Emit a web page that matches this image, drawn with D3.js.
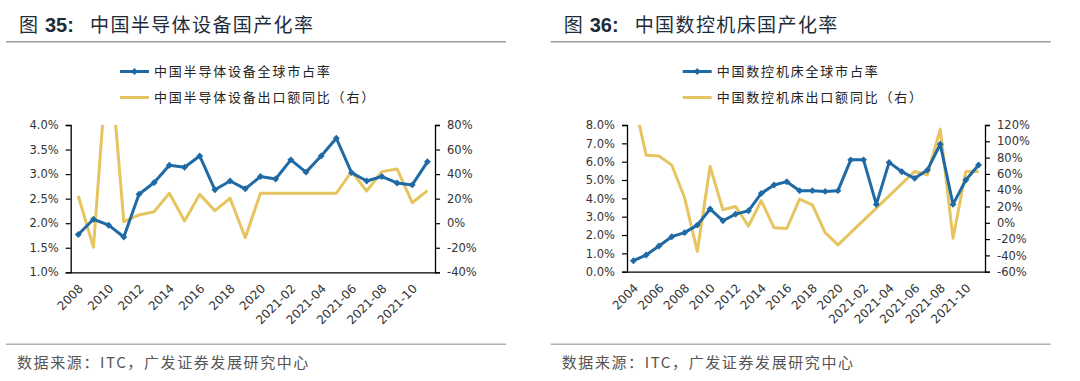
<!DOCTYPE html>
<html>
<head>
<meta charset="utf-8">
<script src="https://cdn.jsdelivr.net/npm/d3@7"></script>
<style>
body { margin: 0; background: #fff; }
</style>
</head>
<body>
<div id="chart"></div>
<script>
'use strict';

// 图35 中国半导体设备
var cats1 = ['2008', '2009', '2010', '2011', '2012', '2013', '2014', '2015', '2016', '2017', '2018', '2019', '2020',
    '2021-01', '2021-02', '2021-03', '2021-04', '2021-05', '2021-06', '2021-07', '2021-08', '2021-09', '2021-10', '2021-11']
var share1 = [1.77, 2.08, 1.96, 1.72, 2.59, 2.83, 3.18, 3.14, 3.37, 2.68, 2.86, 2.70, 2.95,
    2.90, 3.29, 3.04, 3.37, 3.73, 3.03, 2.86, 2.95, 2.82, 2.78, 3.25]
var export1 = [22.2, -19.6, 148, 1.2, 6.7, 9.4, 24.4, 1.8, 23.5, 10.2, 20.3, -11.8, 24.4,
    null, null, null, null, 24.4, 42, 26.2, 42, 44.2, 16.7, 26.5]
var leftTicks1 = [1.0, 1.5, 2.0, 2.5, 3.0, 3.5, 4.0]
var rightTicks1 = [-40, -20, 0, 20, 40, 60, 80]

// 图36 中国数控机床
var cats2 = ['2004', '2005', '2006', '2007', '2008', '2009', '2010', '2011', '2012', '2013', '2014', '2015', '2016',
    '2017', '2018', '2019', '2020',
    '2021-01', '2021-02', '2021-03', '2021-04', '2021-05', '2021-06', '2021-07', '2021-08', '2021-09', '2021-10', '2021-11']
var share2 = [0.60, 0.91, 1.40, 1.91, 2.13, 2.54, 3.42, 2.78, 3.14, 3.32, 4.27, 4.73, 4.91,
    4.42, 4.42, 4.38, 4.42,
    6.10, 6.10, 3.67, 5.96, 5.45, 5.09, 5.55, 6.95, 3.67, 5.00, 5.82]
var export2 = [153, 83, 82, 71, 31, -35, 69, 16, 20, -4, 27, -6, -7,
    29, 22, -12, -27,
    null, null, null, null, null, 63, 59, 115, -19, 63, 63]
var leftTicks2 = [0, 1, 2, 3, 4, 5, 6, 7, 8]
var rightTicks2 = [-60, -40, -20, 0, 20, 40, 60, 80, 100, 120]

var blue = '#1f6aa5'
var gold = '#e6c561'
var cjk = '"Noto Sans CJK SC", sans-serif'

var svg = d3.select('#chart').append('svg')
    .attr('width', 1080)
    .attr('height', 381)

function drawPanel(p) {
    var g = svg.append('g')

    // title
    g.append('text').attr('x', p.x0 + 13).attr('y', 32)
        .style('font-family', cjk).style('font-size', '19px').style('fill', '#1e2b3a')
        .text('图')
    g.append('text').attr('x', p.x0 + 39).attr('y', 32)
        .style('font-family', '"Liberation Sans", Arial, sans-serif').style('font-weight', 'bold')
        .style('font-size', '20px').style('fill', '#1e2b3a')
        .text(p.num + ':')
    g.append('text').attr('x', p.x0 + 84).attr('y', 32)
        .style('font-family', cjk).style('font-size', '19px').style('letter-spacing', '1.4px').style('fill', '#1e2b3a')
        .text(p.title)
    g.append('line').attr('x1', p.x0).attr('x2', p.x0 + 500).attr('y1', 41.7).attr('y2', 41.7)
        .style('stroke', '#9a9a9a').style('stroke-width', 1.5)

    // footer
    g.append('line').attr('x1', p.x0).attr('x2', p.x0 + 500).attr('y1', 344.3).attr('y2', 344.3)
        .style('stroke', '#b0b0b0').style('stroke-width', 1.5)
    g.append('text').attr('x', p.x0 + 11).attr('y', 368)
        .style('font-family', cjk).style('font-size', '15px').style('letter-spacing', '1.6px').style('fill', '#555')
        .text('数据来源：ITC，广发证券发展研究中心')

    var x = d3.scalePoint().domain(p.cats).range([p.left, p.right]).padding(0.5)
    var yL = d3.scaleLinear().domain([p.leftTicks[0], p.leftTicks[p.leftTicks.length - 1]]).range([p.bottom, p.top])
    var yR = d3.scaleLinear().domain([p.rightTicks[0], p.rightTicks[p.rightTicks.length - 1]]).range([p.bottom, p.top])

    var clipId = 'clip' + p.num
    svg.append('clipPath').attr('id', clipId).append('rect')
        .attr('x', p.left).attr('y', p.top).attr('width', p.right - p.left).attr('height', p.bottom - p.top)

    var tickFont = '"DejaVu Sans", sans-serif'

    var axL = g.append('g').attr('transform', 'translate(' + p.left + ',0)')
        .call(d3.axisLeft(yL).tickValues(p.leftTicks).tickSize(5).tickPadding(7).tickFormat(p.leftFmt))
    var axR = g.append('g').attr('transform', 'translate(' + p.right + ',0)')
        .call(d3.axisRight(yR).tickValues(p.rightTicks).tickSize(5).tickPadding(7).tickFormat(function(d) { return d + '%' }))
    var axB = g.append('g').attr('transform', 'translate(0,' + p.bottom + ')')
        .call(d3.axisBottom(x).tickValues(p.cats.filter(function(d, i) { return i % 2 === 0 })).tickSize(0).tickSizeOuter(0))
    ;[axL, axR, axB].forEach(function(a) {
        a.select('.domain').style('stroke', '#000').style('stroke-width', 1.3)
        a.selectAll('line').style('stroke', '#000').style('stroke-width', 1.2)
        a.selectAll('text').style('font-family', tickFont).style('font-size', '11.5px').style('fill', '#333')
    })
    axB.selectAll('text')
        .style('font-size', '12px')
        .attr('text-anchor', 'end')
        .attr('dy', '0')
        .attr('transform', 'translate(3,15) rotate(-45)')

    var plot = g.append('g').attr('clip-path', 'url(#' + clipId + ')')

    var goldLine = d3.line()
        .x(function(d) { return x(d.c) })
        .y(function(d) { return yR(d.v) })
    var goldData = p.cats.map(function(c, i) { return { c: c, v: p.exportVals[i] } })
        .filter(function(d) { return d.v !== null })
    plot.append('path').datum(goldData)
        .attr('d', goldLine)
        .style('fill', 'none').style('stroke', gold).style('stroke-width', 3).style('stroke-linejoin', 'round')

    var blueLine = d3.line()
        .x(function(d, i) { return x(p.cats[i]) })
        .y(function(d) { return yL(d) })
    plot.append('path').datum(p.shareVals)
        .attr('d', blueLine)
        .style('fill', 'none').style('stroke', blue).style('stroke-width', 3).style('stroke-linejoin', 'round')

    var diamond = d3.symbol().type(d3.symbolSquare).size(24)
    plot.selectAll('.mk').data(p.shareVals).enter().append('path')
        .attr('class', 'mk')
        .attr('d', diamond)
        .attr('transform', function(d, i) { return 'translate(' + x(p.cats[i]) + ',' + yL(d) + ') rotate(45)' })
        .style('fill', blue)

    // legend
    var lg = g.append('g').attr('transform', 'translate(' + p.legendX + ',0)')
    lg.append('line').attr('x1', 0).attr('x2', 29).attr('y1', 71.5).attr('y2', 71.5)
        .style('stroke', blue).style('stroke-width', 3)
    lg.append('path').attr('d', diamond).attr('transform', 'translate(14.5,71.5) rotate(45)').style('fill', blue)
    lg.append('line').attr('x1', 0).attr('x2', 29).attr('y1', 97.5).attr('y2', 97.5)
        .style('stroke', gold).style('stroke-width', 3)
    lg.append('text').attr('x', 34).attr('y', 76)
        .style('font-family', cjk).style('font-size', '13px').style('letter-spacing', '1.8px').style('fill', '#222')
        .text(p.legend1)
    lg.append('text').attr('x', 34).attr('y', 102)
        .style('font-family', cjk).style('font-size', '13px').style('letter-spacing', '1.8px').style('fill', '#222')
        .text(p.legend2)
}

drawPanel({
    x0: 6, num: '35', title: '中国半导体设备国产化率',
    cats: cats1, shareVals: share1, exportVals: export1,
    leftTicks: leftTicks1, rightTicks: rightTicks1,
    leftFmt: function(d) { return d.toFixed(1) + '%' },
    left: 70.7, right: 435, top: 125, bottom: 272.3,
    legendX: 120,
    legend1: '中国半导体设备全球市占率', legend2: '中国半导体设备出口额同比（右）'
})

drawPanel({
    x0: 550.7, num: '36', title: '中国数控机床国产化率',
    cats: cats2, shareVals: share2, exportVals: export2,
    leftTicks: leftTicks2, rightTicks: rightTicks2,
    leftFmt: function(d) { return d.toFixed(1) + '%' },
    left: 627, right: 985, top: 125, bottom: 271.7,
    legendX: 682.7,
    legend1: '中国数控机床全球市占率', legend2: '中国数控机床出口额同比（右）'
})
</script>
</body>
</html>
